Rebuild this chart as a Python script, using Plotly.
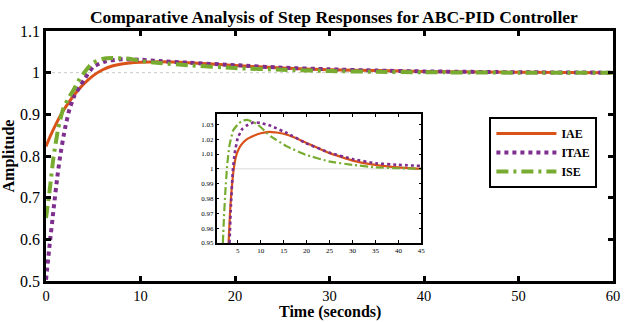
import plotly.graph_objects as go

# ---------------- main chart data ----------------
t_iae = [0, 0.5, 1, 1.5, 2, 3, 4, 5, 6, 7, 8, 10, 12, 15, 20, 25, 30, 35, 40, 50, 60]
y_iae = [0.823, 0.850, 0.874, 0.896, 0.915, 0.947, 0.973, 0.993, 1.007, 1.016, 1.021, 1.025, 1.026, 1.024, 1.017, 1.011, 1.007, 1.005, 1.003, 1.001, 1.000]

t_itae = [0, 0.4, 0.8, 1.2, 1.5, 2, 2.5, 3, 4, 5, 6.4, 8, 10, 12, 15, 20, 25, 30, 35, 40, 50, 60]
y_itae = [0.503, 0.590, 0.672, 0.750, 0.800, 0.865, 0.914, 0.944, 0.982, 1.014, 1.028, 1.032, 1.031, 1.028, 1.024, 1.018, 1.012, 1.008, 1.005, 1.003, 1.001, 1.000]

t_ise = [0, 0.4, 0.8, 1.3, 1.8, 2.4, 2.9, 3.4, 3.9, 4.9, 6, 7, 9, 10, 12, 15, 20, 25, 30, 35, 40, 50, 60]
y_ise = [0.651, 0.720, 0.798, 0.867, 0.912, 0.940, 0.958, 0.979, 0.996, 1.023, 1.033, 1.035, 1.033, 1.028, 1.023, 1.018, 1.011, 1.007, 1.004, 1.002, 1.001, 1.000, 1.000]

# ---------------- inset data ----------------
ti_iae = [3.0, 3.3, 3.6, 4.0, 4.5, 5.0, 5.7, 6.8, 8.6, 10, 11.8, 13.5, 15, 17.5, 20, 22.5, 25, 30, 35, 40, 45]
yi_iae = [0.950, 0.970, 0.984, 0.997, 1.007, 1.012, 1.016, 1.0196, 1.0225, 1.024, 1.025, 1.0245, 1.0237, 1.021, 1.0174, 1.014, 1.0106, 1.0056, 1.0027, 1.001, 1.000]

ti_itae = [3.2, 3.5, 3.9, 4.3, 5.0, 6.0, 6.8, 8.5, 10, 12.2, 15.8, 19.8, 24.9, 30, 35, 40, 45]
yi_itae = [0.950, 0.975, 0.998, 1.010, 1.021, 1.027, 1.029, 1.0314, 1.031, 1.029, 1.024, 1.0174, 1.011, 1.0066, 1.0038, 1.0027, 1.002]

ti_ise = [1.75, 2.0, 2.3, 2.7, 3.2, 4.0, 5.0, 6.0, 7.0, 8.0, 9.3, 12.2, 15.8, 19.8, 24.9, 30, 35, 40, 45]
yi_ise = [0.950, 0.968, 0.985, 1.003, 1.016, 1.026, 1.030, 1.0325, 1.033, 1.032, 1.030, 1.0219, 1.015, 1.0095, 1.005, 1.0027, 1.001, 1.0004, 1.000]

ref_x = [0, 60]
ref_y = [1, 1]
refi_x = [0, 45]

names = ["IAE", "ITAE", "ISE"]
colors = ["#D95319", "#7E2F8E", "#77AC30"]

x_ticks = [0, 10, 20, 30, 40, 50, 60]
y_ticks = [0.5, 0.6, 0.7, 0.8, 0.9, 1.0, 1.1]
y_ticktext = ["0.5", "0.6", "0.7", "0.8", "0.9", "1", "1.1"]
xi_ticks = [5, 10, 15, 20, 25, 30, 35, 40, 45]
yi_ticks = [0.95, 0.96, 0.97, 0.98, 0.99, 1.0, 1.01, 1.02, 1.03]
yi_ticktext = ["0.95", "0.96", "0.97", "0.98", "0.99", "1", "1.01", "1.02", "1.03"]

FONT = "Liberation Serif"

fig = go.Figure()

# reference lines
fig.add_trace(go.Scatter(x=ref_x, y=ref_y, mode="lines", showlegend=False, hoverinfo="skip",
                         line=dict(color="#c8c8c8", width=1, dash="dot")))
fig.add_trace(go.Scatter(x=refi_x, y=ref_y, mode="lines", showlegend=False, hoverinfo="skip",
                         xaxis="x2", yaxis="y2",
                         line=dict(color="#d8d8d8", width=1)))

main = [(t_iae, y_iae), (t_itae, y_itae), (t_ise, y_ise)]
dashes = ["solid", "dot", "12px,5px,3px,5px"]
widths = [3, 4, 4]
for (tx, ty), n, c, d, w in zip(main, names, colors, dashes, widths):
    fig.add_trace(go.Scatter(x=tx, y=ty, mode="lines", name="<b>" + n + "</b>",
                             line=dict(color=c, width=w, dash=d, shape="spline", smoothing=0.5)))

inset = [(ti_iae, yi_iae), (ti_itae, yi_itae), (ti_ise, yi_ise)]
idashes = ["solid", "dot", "8px,3px,2px,3px"]
iwidths = [2.2, 2.6, 2.2]
for (tx, ty), n, c, d, w in zip(inset, names, colors, idashes, iwidths):
    fig.add_trace(go.Scatter(x=tx, y=ty, mode="lines", name=n, showlegend=False,
                             xaxis="x2", yaxis="y2",
                             line=dict(color=c, width=w, dash=d, shape="spline", smoothing=0.3)))

axis_common = dict(showgrid=False, zeroline=False, showline=True, linecolor="black",
                   mirror="allticks", ticks="inside", tickcolor="black")

fig.update_layout(
    width=624, height=322,
    margin=dict(l=46, r=4, t=31, b=41),
    paper_bgcolor="white", plot_bgcolor="white",
    font=dict(family=FONT, color="black"),
    title=dict(text="<b>Comparative Analysis of Step Responses for ABC-PID Controller</b>",
               x=0.535, xanchor="center", y=0.947, yanchor="middle",
               font=dict(size=17.5, family=FONT, color="black")),
    xaxis=dict(range=[0, 60], tickvals=x_ticks, ticklen=5, tickwidth=2.5, linewidth=2.5,
               tickfont=dict(size=14.5, family=FONT), ticklabelstandoff=0,
               **axis_common),
    yaxis=dict(range=[0.5, 1.1], tickvals=y_ticks, ticktext=y_ticktext, ticklen=5, tickwidth=2.5,
               linewidth=2.5, tickfont=dict(size=16, family=FONT),
               title=dict(text="<b>Amplitude</b>", font=dict(size=16, family=FONT), standoff=3),
               **axis_common),
    xaxis2=dict(domain=[0.301, 0.662], anchor="y2", range=[0.4, 45], tickvals=xi_ticks,
                ticklen=3, tickwidth=1, linewidth=1.5, tickfont=dict(size=7, family=FONT),
                **axis_common),
    yaxis2=dict(domain=[0.152, 0.668], anchor="x2", range=[0.95, 1.037], tickvals=yi_ticks,
                ticktext=yi_ticktext, ticklen=3, tickwidth=1, linewidth=1.5,
                tickfont=dict(size=7, family=FONT), **axis_common),
    legend=dict(x=0.782, y=0.656, xanchor="left", yanchor="top",
                bordercolor="black", borderwidth=2, bgcolor="white",
                font=dict(size=12, family=FONT), itemwidth=60, tracegroupgap=0),
    showlegend=True,
    annotations=[dict(text="<b>Time (seconds)</b>", xref="paper", yref="paper",
                      x=0.5, y=-0.124, xanchor="center", yanchor="middle", showarrow=False,
                      font=dict(size=16, family=FONT, color="black"))],
)

# bold tick labels
fig.update_xaxes(tickprefix="<b>", ticksuffix="</b>")
fig.update_yaxes(tickprefix="<b>", ticksuffix="</b>")

fig.write_html("out.html")
